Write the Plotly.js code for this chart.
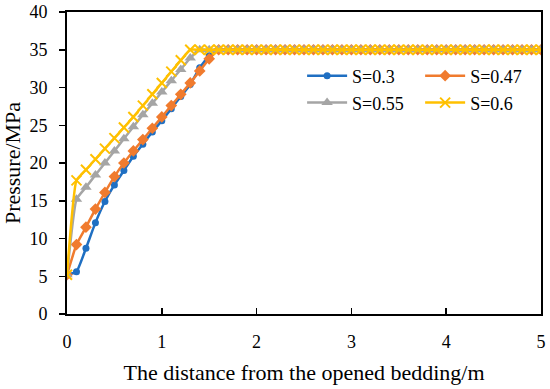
<!DOCTYPE html>
<html><head><meta charset="utf-8">
<script src="https://cdn.plot.ly/plotly-3.0.1.min.js"></script>
<style>html,body{margin:0;padding:0;background:#fff}#c{width:550px;height:389px}</style>
</head><body><div id="c"></div>
<script>
// distance from the opened bedding (m), step 0.1 from 0 to 5
const distance = [0,0.1,0.2,0.3,0.4,0.5,0.6,0.7,0.8,0.9,1.0,1.1,1.2,1.3,1.4,1.5,1.6,1.7,1.8,1.9,2.0,2.1,2.2,2.3,2.4,2.5,2.6,2.7,2.8,2.9,3.0,3.1,3.2,3.3,3.4,3.5,3.6,3.7,3.8,3.9,4.0,4.1,4.2,4.3,4.4,4.5,4.6,4.7,4.8,4.9,5.0];
const seriesNames = ["S=0.3","S=0.47","S=0.55","S=0.6"];
const p_S030 = [5.2,5.6,8.7,12.1,14.9,17.1,19.0,20.9,22.5,24.1,25.6,27.2,28.8,30.4,32.6,34.2,35,35,35,35,35,35,35,35,35,35,35,35,35,35,35,35,35,35,35,35,35,35,35,35,35,35,35,35,35,35,35,35,35,35,35];
const p_S047 = [5.2,9.2,11.5,13.9,16.1,18.2,20.0,21.6,23.1,24.6,26.1,27.6,29.1,30.6,32.2,33.8,35,35,35,35,35,35,35,35,35,35,35,35,35,35,35,35,35,35,35,35,35,35,35,35,35,35,35,35,35,35,35,35,35,35,35];
const p_S055 = [5.2,15.2,16.8,18.4,20.0,21.6,23.2,24.8,26.4,27.9,29.4,30.9,32.4,33.9,35,35,35,35,35,35,35,35,35,35,35,35,35,35,35,35,35,35,35,35,35,35,35,35,35,35,35,35,35,35,35,35,35,35,35,35,35];
const p_S060 = [5.2,17.7,19.1,20.5,21.9,23.3,24.7,26.1,27.6,29.1,30.6,32.1,33.6,35,35,35,35,35,35,35,35,35,35,35,35,35,35,35,35,35,35,35,35,35,35,35,35,35,35,35,35,35,35,35,35,35,35,35,35,35,35];
const xTicks = [0,1,2,3,4,5];
const yTicks = [0,5,10,15,20,25,30,35,40];

const colors = ["#1F6FC2","#F07B2E","#A5A5A5","#FFC000"];
const markers = [
  {symbol:"circle", size:7},
  {symbol:"diamond", size:9},
  {symbol:"triangle-up", size:10},
  {symbol:"x-thin", size:10}
];
const legendIds = ["legend","legend2","legend3","legend4"];
const allY = [p_S030,p_S047,p_S055,p_S060];
const traces = allY.map((y,i)=>({
  x: distance, y: y, name: seriesNames[i], type:"scatter", mode:"lines+markers",
  legend: legendIds[i],
  line:{color:colors[i], width:2.5, shape:"spline", smoothing:0.4},
  marker:{symbol:markers[i].symbol, size:markers[i].size, color:colors[i],
          line:{color:colors[i], width: i===3?2:0}}
}));

const font = "'Liberation Serif', serif";
const legBase = (x, y) => ({x:x, y:y, xanchor:"left", yanchor:"middle", orientation:"v",
  font:{family:font, size:18, color:"#000"}, bgcolor:"rgba(0,0,0,0)", itemwidth:40, borderwidth:0});
const layout = {
  width:550, height:389,
  margin:{l:67, r:9, t:12, b:75},
  paper_bgcolor:"#fff", plot_bgcolor:"#fff",
  font:{family:font, size:18, color:"#000"},
  showlegend:true,
  legend: legBase(0.496, 0.788),
  legend2: legBase(0.745, 0.788),
  legend3: legBase(0.496, 0.699),
  legend4: legBase(0.745, 0.699),
  xaxis:{range:[0,5], tickvals:xTicks, ticktext:xTicks.map(String), showgrid:false, zeroline:false,
         showline:true, linecolor:"#000", linewidth:2, mirror:true,
         ticks:"inside", ticklen:6, tickwidth:1.5, tickcolor:"#000", ticklabelstandoff:10,
         tickfont:{family:font, size:18, color:"#000"},
         title:{text:"The distance from the opened bedding/m", font:{family:font, size:22, color:"#000"}, standoff:14}},
  yaxis:{range:[0,40], tickvals:yTicks, ticktext:yTicks.map(String), showgrid:false, zeroline:false,
         showline:true, linecolor:"#000", linewidth:2, mirror:true,
         ticks:"outside", ticklen:6, tickwidth:1.5, tickcolor:"#000", ticklabelstandoff:8,
         tickfont:{family:font, size:18, color:"#000"},
         title:{text:"Pressure/MPa", font:{family:font, size:22, color:"#000"}, standoff:6}}
};
Plotly.newPlot("c", traces, layout, {displayModeBar:false, staticPlot:true});
</script></body></html>
